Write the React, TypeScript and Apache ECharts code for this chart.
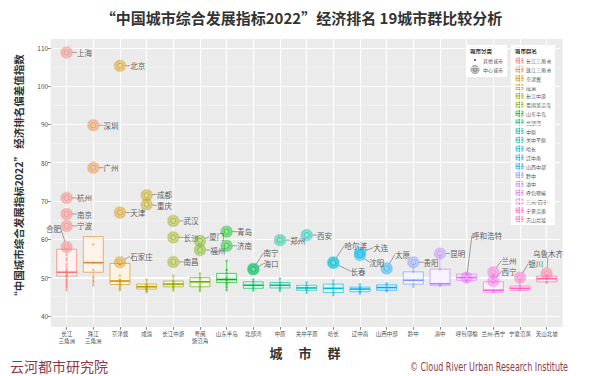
import React, { useEffect, useRef } from 'react';
import * as echarts from 'echarts';

// ---------- data ----------
const categories = ['长江\n三角洲', '珠江\n三角洲', '京津冀', '成渝', '长江中游', '粤闽\n浙沿海', '山东半岛', '北部湾', '中原', '关中平原', '哈长', '辽中南', '山西中部', '黔中', '滇中', '呼包鄂榆', '兰州-西宁', '宁夏沿黄', '天山北坡'];
const legendNames = ['长江三角洲', '珠江三角洲', '京津冀', '成渝', '长江中游', '粤闽浙沿海', '山东半岛', '北部湾', '中原', '关中平原', '哈长', '辽中南', '山西中部', '黔中', '滇中', '呼包鄂榆', '兰州-西宁', '宁夏沿黄', '天山北坡'];

const boxMin = [46.7, 48.0, 46.7, 46.2, 46.6, 46.5, 46.7, 46.6, 46.5, 46.0, 45.4, 45.8, 46.5, 47.6, 47.8, 49.0, 46.1, 46.7, 48.6];
const boxQ1 = [50.4, 51.4, 48.2, 47.0, 47.6, 47.6, 48.7, 47.2, 47.3, 46.7, 46.1, 46.3, 46.7, 48.3, 48.0, 49.3, 46.2, 46.7, 48.9];
const boxMedian = [51.4, 53.9, 49.1, 47.6, 48.3, 48.9, 49.5, 48.0, 48.0, 47.3, 47.2, 47.0, 47.4, 49.3, 48.4, 50.0, 46.7, 47.2, 49.7];
const boxQ3 = [57.4, 60.7, 53.7, 48.3, 49.1, 50.0, 51.1, 48.9, 48.7, 48.0, 48.3, 47.5, 48.1, 51.5, 52.2, 50.9, 48.9, 47.8, 50.4];
const boxMax = [58.0, 60.7, 54.0, 49.5, 50.5, 51.1, 54.4, 49.6, 49.8, 48.8, 49.3, 48.3, 48.5, 54.0, 56.3, 51.2, 51.4, 50.0, 51.1];

const centerCityNames = ['上海', '杭州', '南京', '宁波', '合肥', '深圳', '广州', '北京', '天津', '石家庄', '成都', '重庆', '武汉', '长沙', '南昌', '厦门', '福州', '青岛', '济南', '南宁', '海口', '郑州', '西安', '哈尔滨', '长春', '大连', '沈阳', '太原', '贵阳', '昆明', '呼和浩特', '兰州', '西宁', '银川', '乌鲁木齐'];
const centerCityGroup = [0, 0, 0, 0, 0, 1, 1, 2, 2, 2, 3, 3, 4, 4, 4, 5, 5, 6, 6, 7, 7, 8, 9, 10, 10, 11, 11, 12, 13, 14, 15, 16, 16, 17, 18];
const centerCityValues = [108.8, 70.8, 66.6, 63.5, 58.0, 89.8, 78.7, 105.3, 67.0, 54.0, 71.5, 69.1, 64.8, 60.5, 54.1, 59.6, 57.2, 62.0, 58.3, 52.3, 52.1, 59.8, 61.1, 54.0, 53.8, 56.5, 55.9, 52.4, 54.0, 56.3, 50.0, 51.4, 49.1, 50.0, 51.1];

const otherCityValues: number[][] = [
  [56.0, 55.0, 54.5, 53.5, 52.8, 52.2, 51.8, 51.4, 51.0, 50.7, 50.5, 50.2, 49.5, 49.0, 48.5, 48.0, 47.5, 46.7],
  [58.7, 53.9, 52.0, 50.0, 49.0, 48.0],
  [53.5, 50.5, 49.5, 49.2, 49.0, 48.6, 48.2, 47.8, 47.2, 46.7],
  [49.5, 48.3, 48.0, 47.8, 47.6, 47.4, 47.2, 47.0, 46.8, 46.5, 46.2],
  [50.5, 49.1, 48.8, 48.5, 48.3, 48.0, 47.8, 47.6, 47.2, 46.6],
  [51.1, 50.0, 49.5, 48.9, 48.5, 48.0, 47.6, 47.0, 46.5],
  [54.4, 52.0, 51.1, 50.3, 49.8, 49.5, 49.2, 48.7, 48.2, 47.5, 46.7],
  [49.6, 48.9, 48.4, 48.0, 47.6, 47.2, 46.6],
  [49.8, 48.7, 48.3, 48.0, 47.7, 47.3, 47.0, 46.5],
  [48.8, 48.0, 47.5, 47.3, 47.0, 46.7, 46.0],
  [49.3, 48.3, 47.8, 47.2, 46.6, 46.1, 45.4],
  [48.3, 47.5, 47.2, 47.0, 46.6, 46.3, 45.8],
  [48.5, 48.1, 47.4, 46.7, 46.5],
  [51.5, 49.3, 48.3, 47.6],
  [52.2, 48.4, 48.0, 47.8],
  [51.2, 50.9, 49.3, 49.0],
  [48.9, 46.7, 46.2],
  [47.8, 47.2, 46.7],
  [50.4, 49.7, 48.9, 48.6],
];

const yTickValues = [40, 50, 60, 70, 80, 90, 100, 110];
const yMinorValues = [45, 55, 65, 75, 85, 95, 105];

// label nudges (layout only)
const labelOffsets: Record<string, [number, number]> = {
  '合肥': [-29, -18], '石家庄': [2, -6], '成都': [2, -1], '重庆': [2, 1], '厦门': [1, -4], '南宁': [2, -16], '海口': [2, -6],
  '哈尔滨': [3, -17], '长春': [9, 8], '大连': [5, -5], '沈阳': [1, 7], '太原': [0, -14],
  '呼和浩特': [-3, -42], '兰州': [0, -12], '西宁': [0, -10], '银川': [0, -14], '乌鲁木齐': [-22, -20],
};

// ---------- colours (ggplot hue palette) ----------
function hcl(h: number, c: number, l: number): string {
  const hr = (h * Math.PI) / 180;
  const U = c * Math.cos(hr), V = c * Math.sin(hr);
  const Xn = 95.047, Yn = 100, Zn = 108.883;
  const Y = Yn * (l > 7.999592 ? Math.pow((l + 16) / 116, 3) : l / 903.3);
  const den = Xn + 15 * Yn + 3 * Zn;
  const un = (4 * Xn) / den, vn = (9 * Yn) / den;
  const u = U / (13 * l) + un, v = V / (13 * l) + vn;
  const X = (9 * Y * u) / (4 * v);
  const Z = -X / 3 - 5 * Y + (3 * Y) / v;
  const x = X / 100, y = Y / 100, z = Z / 100;
  const lin = [
    3.240479 * x - 1.53715 * y - 0.498535 * z,
    -0.969256 * x + 1.875992 * y + 0.041556 * z,
    0.055648 * x - 0.204043 * y + 1.057311 * z,
  ];
  return '#' + lin.map((t) => {
    const g = t <= 0.0031308 ? 12.92 * t : 1.055 * Math.pow(t, 1 / 2.4) - 0.055;
    const n = Math.round(Math.max(0, Math.min(1, g)) * 255);
    return n.toString(16).padStart(2, '0');
  }).join('');
}
const colors = categories.map((_, i) => hcl((15 + (i * 360) / 19) % 360, 100, 65));
function rgba(hex: string, a: number) {
  const r = parseInt(hex.slice(1, 3), 16), g = parseInt(hex.slice(3, 5), 16), b = parseInt(hex.slice(5, 7), 16);
  return `rgba(${r},${g},${b},${a})`;
}
function tint(hex: string, t: number) {
  const r = parseInt(hex.slice(1, 3), 16), g = parseInt(hex.slice(3, 5), 16), b = parseInt(hex.slice(5, 7), 16);
  const m = (v: number) => Math.round(255 - (255 - v) * t);
  return `rgb(${m(r)},${m(g)},${m(b)})`;
}

const FONT = '"Noto Sans CJK SC", "Noto Sans", sans-serif';

export default function App() {
  const ref = useRef<HTMLDivElement>(null);
  useEffect(() => {
    if (!ref.current) return;
    const chart = echarts.init(ref.current, undefined, { renderer: 'svg' });

    const boxData = categories.map((_, i) => [i, boxMin[i], boxQ1[i], boxMedian[i], boxQ3[i], boxMax[i]]);
    const otherData: number[][] = [];
    otherCityValues.forEach((arr, i) => arr.forEach((v) => otherData.push([i, v])));
    const centerData = centerCityNames.map((n, k) => ({ name: n, value: [centerCityGroup[k], centerCityValues[k]] }));

    const legendChildren: any[] = [];
    // 城市分类 legend
    legendChildren.push({ type: 'rect', shape: { x: 466, y: 45, width: 41, height: 32 }, style: { fill: '#fff' } });
    legendChildren.push({ type: 'text', x: 470, y: 51, style: { text: '城市分类', fontSize: 5.5, fontWeight: 'bold', fontFamily: FONT, fill: '#333', textVerticalAlign: 'middle', verticalAlign: 'middle' } });
    legendChildren.push({ type: 'circle', shape: { cx: 475, cy: 60, r: 1.1 }, style: { fill: '#555' } });
    legendChildren.push({ type: 'text', x: 483, y: 60, style: { text: '其他城市', fontSize: 5, fontFamily: FONT, fill: '#555', textVerticalAlign: 'middle', verticalAlign: 'middle' } });
    legendChildren.push({ type: 'circle', shape: { cx: 475, cy: 69.5, r: 4.2 }, style: { fill: 'rgba(120,120,120,0.45)', stroke: 'rgba(90,90,90,0.6)', lineWidth: 0.6 } });
    legendChildren.push({ type: 'circle', shape: { cx: 475, cy: 69.5, r: 1.8 }, style: { fill: 'none', stroke: '#444', lineWidth: 0.6 } });
    legendChildren.push({ type: 'text', x: 483, y: 69.5, style: { text: '中心城市', fontSize: 5, fontFamily: FONT, fill: '#555', textVerticalAlign: 'middle', verticalAlign: 'middle' } });
    // 城市群名 legend
    legendChildren.push({ type: 'rect', shape: { x: 511, y: 45, width: 44, height: 180 }, style: { fill: '#fff' } });
    legendChildren.push({ type: 'text', x: 515, y: 51, style: { text: '城市群名', fontSize: 5.5, fontWeight: 'bold', fontFamily: FONT, fill: '#333', textVerticalAlign: 'middle', verticalAlign: 'middle' } });
    legendNames.forEach((n, i) => {
      const cy = 60.7 + i * 8.8;
      const c = colors[i];
      legendChildren.push({ type: 'line', shape: { x1: 519.5, y1: cy - 3.6, x2: 519.5, y2: cy + 3.6 }, style: { stroke: c, lineWidth: 0.6 } });
      legendChildren.push({ type: 'rect', shape: { x: 516, y: cy - 2.4, width: 7, height: 4.8 }, style: { fill: tint(c, 0.15), stroke: c, lineWidth: 0.6 } });
      legendChildren.push({ type: 'line', shape: { x1: 516, y1: cy, x2: 523, y2: cy }, style: { stroke: c, lineWidth: 0.9 } });
      legendChildren.push({ type: 'line', shape: { x1: 519.5, y1: cy - 2.4, x2: 519.5, y2: cy + 2.4 }, style: { stroke: c, lineWidth: 0.5 } });
      legendChildren.push({ type: 'text', x: 526, y: cy, style: { text: n, fontSize: 5, fontFamily: FONT, fill: '#555', textVerticalAlign: 'middle', verticalAlign: 'middle' } });
    });

    const option: any = {
      animation: false,
      backgroundColor: '#ffffff',
      grid: { left: 53.3, right: 43, top: 39, bottom: 49, containLabel: false },
      xAxis: {
        type: 'category',
        data: categories,
        boundaryGap: true,
        axisLine: { show: false },
        axisTick: { show: true, alignWithLabel: true, length: 2.75, lineStyle: { color: '#333', width: 0.6 }, interval: 0 },
        axisLabel: { interval: 0, fontSize: 5.5, lineHeight: 7, color: '#4d4d4d', margin: 3, fontFamily: FONT },
        splitLine: { show: false },
      },
      yAxis: {
        type: 'value',
        min: 37.1,
        max: 112.3,
        offset: 2.6,
        axisLine: { show: false },
        axisTick: { show: true, length: 2.75, lineStyle: { color: '#333', width: 0.6 }, customValues: yTickValues },
        axisLabel: { fontSize: 6.5, color: '#4d4d4d', margin: 2.5, fontFamily: FONT, customValues: yTickValues },
        splitLine: { show: false },
      },
      graphic: [
        { type: 'rect', z: -10, shape: { x: 50.7, y: 39, width: 512, height: 288 }, style: { fill: '#EBEBEB' } },
        { type: 'text', x: 301.5, y: 17, style: { text: '“中国城市综合发展指标2022”经济排名 19城市群比较分析', fontSize: 15, fontWeight: 'bold', fontFamily: FONT, fill: '#333', textAlign: 'center', align: 'center', textVerticalAlign: 'middle', verticalAlign: 'middle' } },
        { type: 'text', x: 18, y: 178, rotation: Math.PI / 2, style: { text: '“中国城市综合发展指标2022” 经济排名偏差值指数', fontSize: 10.5, fontWeight: 'bold', fontFamily: FONT, fill: '#333', textAlign: 'center', align: 'center', textVerticalAlign: 'middle', verticalAlign: 'middle' } },
        { type: 'text', x: 305, y: 352, style: { text: '城　 市　 群', fontSize: 13, fontWeight: 'bold', fontFamily: FONT, fill: '#333', textAlign: 'center', align: 'center', textVerticalAlign: 'middle', verticalAlign: 'middle' } },
        { type: 'text', x: 10, y: 366, style: { text: '云河都市研究院', fontSize: 14, fontFamily: FONT, fill: '#8e3a48', textVerticalAlign: 'middle', verticalAlign: 'middle' } },
        { type: 'text', x: 568, y: 366, scaleX: 0.74, style: { text: '© Cloud River Urban Research Institute', fontSize: 12, fontFamily: '"Liberation Sans Narrow", "DejaVu Sans Condensed", sans-serif', fill: '#8e3a48', textAlign: 'right', align: 'right', textVerticalAlign: 'middle', verticalAlign: 'middle' } },
        { type: 'group', children: legendChildren, z: 100 },
      ],
      series: [
        {
          type: 'line',
          data: [],
          z: 1,
          silent: true,
          markLine: {
            silent: true,
            z: 1,
            symbol: ['none', 'none'],
            label: { show: false },
            emphasis: { disabled: true },
            data: [
              ...yMinorValues.map((v) => ({ yAxis: v, lineStyle: { color: '#fafafa', width: 0.5, type: 'solid' } })),
              ...yTickValues.map((v) => ({ yAxis: v, lineStyle: { color: '#ffffff', width: v === 50 ? 2 : 1, type: 'solid' } })),
              ...categories.map((_, i) => ({ xAxis: i, lineStyle: { color: '#ffffff', width: 1, type: 'solid' } })),
            ],
          },
        },
        {
          type: 'custom',
          z: 6,
          silent: true,
          data: boxData,
          encode: { x: 0, y: [1, 2, 3, 4, 5] },
          renderItem: (params: any, api: any) => {
            const i = api.value(0);
            const c = colors[i];
            const x = api.coord([i, api.value(3)])[0];
            const pMin = api.coord([i, api.value(1)])[1];
            const pQ1 = api.coord([i, api.value(2)])[1];
            const pMed = api.coord([i, api.value(3)])[1];
            const pQ3 = api.coord([i, api.value(4)])[1];
            const pMax = api.coord([i, api.value(5)])[1];
            const bw = api.size([1, 0])[0] * 0.75;
            const stroke = rgba(c, 0.8);
            return {
              type: 'group',
              children: [
                { type: 'line', shape: { x1: x, y1: pQ3, x2: x, y2: pMax }, style: { stroke, lineWidth: 0.8 } },
                { type: 'line', shape: { x1: x, y1: pQ1, x2: x, y2: pMin }, style: { stroke, lineWidth: 0.8 } },
                { type: 'rect', shape: { x: x - bw / 2, y: pQ3, width: bw, height: pQ1 - pQ3 }, style: { fill: tint(c, 0.1), stroke, lineWidth: 0.8 } },
                { type: 'line', shape: { x1: x - bw / 2, y1: pMed, x2: x + bw / 2, y2: pMed }, style: { stroke: c, lineWidth: 1.6 } },
              ],
            };
          },
        },
        {
          type: 'scatter',
          z: 7,
          silent: true,
          data: otherData,
          symbolSize: 2.6,
          itemStyle: { color: (p: any) => rgba(colors[p.value[0]], 0.6) },
        },
        {
          type: 'scatter',
          z: 8,
          silent: true,
          data: centerData.map((d) => ({
            ...d,
            itemStyle: { color: rgba(colors[d.value[0]], 0.5), borderColor: rgba(colors[d.value[0]], 0.35), borderWidth: 1.5 },
          })),
          symbolSize: 11,
          label: { show: true, position: 'right', distance: 2, formatter: '{b}', fontSize: 7.5, lineHeight: 8, color: '#333', fontFamily: FONT },
          labelLine: { show: true, lineStyle: { color: '#666', width: 0.6 } },
          labelLayout: (p: any) => {
            const name = centerCityNames[p.dataIndex];
            const o = labelOffsets[name] || [2, 0];
            return { dx: o[0], dy: o[1] };
          },
        },
        {
          type: 'scatter',
          z: 9,
          silent: true,
          data: centerData.map((d) => ({
            value: d.value,
            itemStyle: { color: 'rgba(255,255,255,0.15)', borderColor: colors[d.value[0]], borderWidth: 0.8 },
          })),
          symbol: 'circle',
          symbolSize: 5,
        },
      ],
    };
    chart.setOption(option);
    return () => chart.dispose();
  }, []);
  return <div ref={ref} style={{ width: 603, height: 376, position: 'absolute', left: 0, top: 0 }} />;
}
